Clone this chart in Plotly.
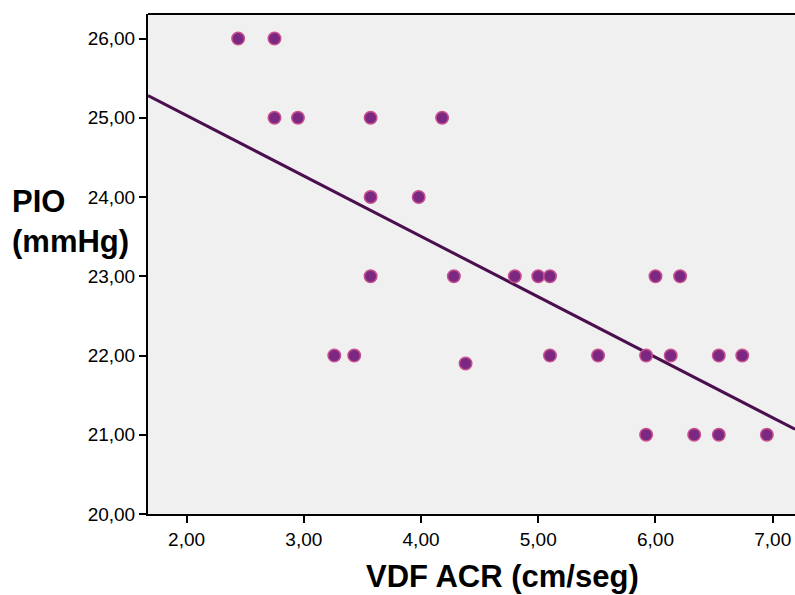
import plotly.graph_objects as go

vdf_acr = [2.44, 2.75, 2.75, 2.95, 3.57, 4.18, 3.57, 3.98, 3.57, 4.28, 4.80, 5.00, 5.10,
           6.00, 6.21, 3.26, 3.43, 4.38, 5.10, 5.51, 5.92, 6.13, 6.54, 6.74, 5.92, 6.33,
           6.54, 6.95]
pio = [26, 26, 25, 25, 25, 25, 24, 24, 23, 23, 23, 23, 23,
       23, 23, 22, 22, 21.9, 22, 22, 22, 22, 22, 22, 21, 21,
       21, 21]
# fit line as drawn in the reference (read at the axis edges)
fit_x = [1.671, 7.19]
fit_y = [25.28, 21.07]
x_ticks = [2, 3, 4, 5, 6, 7]
x_tick_labels = ["2,00", "3,00", "4,00", "5,00", "6,00", "7,00"]
y_ticks = [20, 21, 22, 23, 24, 25, 26]
y_tick_labels = ["20,00", "21,00", "22,00", "23,00", "24,00", "25,00", "26,00"]
x_range = [1.671, 7.19]
y_range = [20, 26.31]

fig = go.Figure()
fig.add_trace(go.Scatter(x=fit_x, y=fit_y, mode="lines",
                         line=dict(color="#4B0F4F", width=3), hoverinfo="skip"))
fig.add_trace(go.Scatter(x=vdf_acr, y=pio, mode="markers",
                         marker=dict(size=12.5, color="#7A2882",
                                     line=dict(color="#C8508E", width=1.5))))

tick_font = dict(size=19, color="black", family="Arial, Liberation Sans, sans-serif")

fig.update_layout(
    width=795, height=595,
    margin=dict(l=148, r=0, t=14, b=81),
    plot_bgcolor="#F0F0F0", paper_bgcolor="white",
    showlegend=False,
    font=dict(family="Liberation Sans, Arial, sans-serif", color="black"),
    xaxis=dict(range=x_range, tickvals=x_ticks, ticktext=x_tick_labels,
               ticks="outside", ticklen=7, tickwidth=2, tickcolor="black",
               tickfont=tick_font, showgrid=False, zeroline=False,
               showline=True, linecolor="black", linewidth=2),
    yaxis=dict(range=y_range, tickvals=y_ticks, ticktext=y_tick_labels,
               ticks="outside", ticklen=7, tickwidth=2, tickcolor="black",
               tickfont=tick_font, showgrid=False, zeroline=False,
               showline=True, linecolor="black", linewidth=2),
)
# top border
fig.add_shape(type="line", xref="paper", yref="paper", x0=0, x1=1, y0=1, y1=1,
              line=dict(color="black", width=2))

fig.add_annotation(text="<b>VDF ACR (cm/seg)</b>", xref="paper", yref="paper",
                   x=(502 - 148) / 647, y=0, yshift=-62, showarrow=False,
                   font=dict(size=31), xanchor="center", yanchor="middle")
fig.add_annotation(text="<b>PIO<br>(mmHg)</b>", xref="paper", yref="paper",
                   x=-(148 - 10) / 647, y=(515 - 222) / 501, showarrow=False,
                   font=dict(size=31), xanchor="left", yanchor="middle", align="left")

fig.write_html("out.html")
